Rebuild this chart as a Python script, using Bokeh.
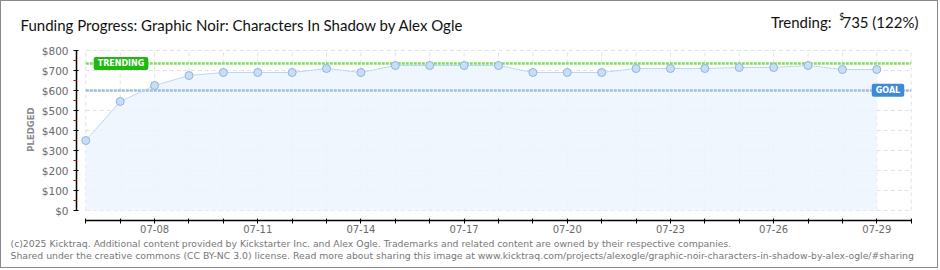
import math
from bokeh.plotting import figure
from bokeh.models import FixedTicker, Label, Range1d
from bokeh.embed import file_html
from bokeh.resources import INLINE

# ---------------- data ----------------
days = list(range(24))                       # 0 -> 07-06
pledged = [350, 545, 625, 675, 690, 690, 690, 710, 690, 725, 725, 725,
           725, 690, 690, 690, 710, 710, 710, 715, 715, 725, 705, 705]
goal = 600
trending = 735
tick_days = list(range(25))                  # 07-06 .. 07-30
label_days = [2, 5, 8, 11, 14, 17, 20, 23]
y_ticks = [0, 100, 200, 300, 400, 500, 600, 700, 800]
y_minor = [50, 150, 250, 350, 450, 550, 650, 750]
title_text = "Funding Progress: Graphic Noir: Characters In Shadow by Alex Ogle"
footer1 = ("(c)2025 Kicktraq. Additional content provided by Kickstarter Inc. and Alex Ogle. "
           "Trademarks and related content are owned by their respective companies.")
footer2 = ("Shared under the creative commons (CC BY-NC 3.0) license. Read more about sharing this image at "
           "www.kicktraq.com/projects/alexogle/graphic-noir-characters-in-shadow-by-alex-ogle/#sharing")

# ---------------- geometry (image px) ----------------
W, H = 938, 268                     # canvas inside a 1px CSS border
X0_PX, X24_PX = 85.3, 910.7
Y0_PX, Y800_PX = 210.0, 50.0
ppd = (X24_PX - X0_PX) / 24.0
pps = (Y0_PX - Y800_PX) / 800.0
x_start = (1 - X0_PX) / ppd
x_end = (1 + W - X0_PX) / ppd
y_start = -(1 + H - Y0_PX) / pps
y_end = (Y0_PX - 1) / pps
xaxis_loc = -(220 - Y0_PX) / pps
yaxis_loc = (76 - X0_PX) / ppd

def sx(px):
    return px - 1

def sy(py):
    return (1 + H) - py

p = figure(width=W, height=H, output_backend="svg", toolbar_location=None,
           x_range=Range1d(x_start, x_end), y_range=Range1d(y_start, y_end),
           min_border=0, min_border_left=0, min_border_right=0,
           min_border_top=0, min_border_bottom=0)
p.styles = {"border": "1px solid #8a8a8a"}
p.outline_line_color = None
p.xgrid.visible = False
p.ygrid.visible = False
p.background_fill_color = "white"
p.border_fill_color = "white"

# grid (dashed), limited to data area
grid_col = "#e2e2e2"
p.segment(x0=tick_days, x1=tick_days, y0=[y_ticks[0]] * len(tick_days),
          y1=[y_ticks[-1]] * len(tick_days), line_color=grid_col, line_width=1,
          line_dash="4 3")
p.segment(x0=[tick_days[0]] * len(y_ticks), x1=[tick_days[-1]] * len(y_ticks),
          y0=y_ticks, y1=y_ticks, line_color=grid_col, line_width=1, line_dash="4 3")

# area
p.varea(x=days, y1=[0] * len(days), y2=pledged, fill_color="#edf4fd", fill_alpha=0.85)

# trending / goal lines
p.segment(x0=[tick_days[0]], x1=[tick_days[-1]], y0=[trending], y1=[trending],
          line_color="#80dc62", line_width=2.5, line_dash="3 1")
p.segment(x0=[tick_days[0]], x1=[tick_days[-1]], y0=[goal], y1=[goal],
          line_color="#9dbde2", line_width=2.5, line_dash="3 1")

# data line + markers
p.line(days, pledged, line_color="#bcd7f3", line_width=1)
p.scatter(days, pledged, size=8, fill_color="#c7def7", line_color="#93b3da", line_width=1)

# axes (fixed inside the frame)
font = "DejaVu Sans"
ax = p.xaxis[0]
ax.fixed_location = xaxis_loc
ax.ticker = FixedTicker(ticks=tick_days)
ax.major_label_overrides = {d: (f"07-{6 + d:02d}" if d in label_days else "") for d in tick_days}
ax.bounds = (tick_days[0], tick_days[-1])
ax.axis_line_color = "black"
ax.axis_line_width = 1.5
ax.major_tick_in = 2
ax.major_tick_out = 3
ax.major_tick_line_color = "black"
ax.minor_tick_line_color = None
ax.major_label_text_font = font
ax.major_label_text_font_size = "10px"
ax.major_label_text_color = "#6a6a6a"
ax.major_label_standoff = 1

ay = p.yaxis[0]
ay.fixed_location = yaxis_loc
ay.ticker = FixedTicker(ticks=y_ticks, minor_ticks=y_minor)
ay.major_label_overrides = {v: f"${v}" for v in y_ticks}
ay.bounds = (y_ticks[0], y_ticks[-1])
ay.axis_line_color = "black"
ay.axis_line_width = 1.5
ay.major_tick_in = 2
ay.major_tick_out = 3
ay.major_tick_line_color = "black"
ay.minor_tick_in = 0
ay.minor_tick_out = 3
ay.minor_tick_line_color = "#e00000"
ay.major_label_text_font = font
ay.major_label_text_font_size = "10.5px"
ay.major_label_text_color = "#6a6a6a"
ay.major_label_standoff = 5

def lab(text, x, y, size, color="#111", align="left", baseline="middle",
        fnt=font, style="normal", angle=0, bg=None, pad=0, radius=0):
    kw = {}
    if bg is not None:
        kw = dict(background_fill_color=bg, padding=pad, border_radius=radius)
    l = Label(x=sx(x), y=sy(y), x_units="screen", y_units="screen", text=text,
              text_font_size=size, text_color=color, text_align=align,
              text_baseline=baseline, text_font=fnt, text_font_style=style,
              angle=angle, **kw)
    p.add_layout(l)

title_font = "Lato"
lab(title_text, 20, 24, "15px", fnt=title_font, color="#111")
lab("Trending:", 831, 21.5, "15px", fnt=title_font, align="right")
lab("$", 844, 16, "9px", fnt=title_font, align="right")
pct = int(trending * 100 // goal)
lab(f"{trending} ({pct}%)", 918, 21.5, "15px", fnt=title_font, align="right")

lab("PLEDGED", 30, 129, "8.5px", color="#888", align="center", baseline="middle",
    style="bold", angle=math.pi / 2)

lab("TRENDING", 120.5, 63, "8px", color="white", align="center", baseline="middle",
    style="bold", bg="#1fb80f", pad=(4, 2), radius=2)
lab("GOAL", 887.5, 89.7, "8px", color="white", align="center", baseline="middle",
    style="bold", bg="#3f8ad8", pad=(4, 2), radius=2)

lab(footer1, 10, 243, "9.3px", color="#777", baseline="middle")
lab(footer2, 10, 255, "9.3px", color="#777", baseline="middle")

open("out.html", "w").write(file_html(p, INLINE))
